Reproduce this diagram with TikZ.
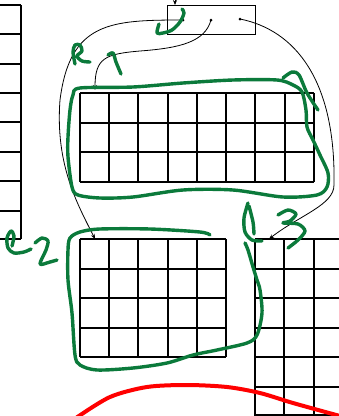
\documentclass[tikz,border=0pt]{standalone}
\usetikzlibrary{arrows.meta}
\definecolor{pen}{HTML}{0B7A3B}
\tikzset{
  gridline/.style={line width=1.3pt, black},
  wire/.style={line width=0.8pt, black, -{Stealth[length=5pt,width=4pt]}},
  ink/.style={pen, line width=3.4pt, line cap=round, line join=round},
  redink/.style={red, line width=4pt, line cap=round},
  dot/.style={circle, fill, inner sep=0pt, minimum size=3pt},
  boxstyle/.style={draw, line width=0.9pt, minimum width=88pt, minimum height=29.5pt, inner sep=0pt},
}
\begin{document}
\begin{tikzpicture}[x=1pt,y=-1pt]
\useasboundingbox (0,0) rectangle (339,416);
\begin{scope}
\clip (0,0) rectangle (339,416);
% left grid
\foreach \y in {5,34,64,93,122,152,181,211,239} \draw[gridline] (-2,\y) -- (21,\y);
\draw[gridline] (21,5) -- (21,239);
% top grid
\foreach \x in {80,109,138,168,197,226,255,285,314} \draw[gridline] (\x,93) -- (\x,182);
\foreach \y in {93,123,152,182} \draw[gridline] (80,\y) -- (314,\y);
% middle grid
\foreach \x in {80,109,138,168,197,226} \draw[gridline] (\x,239) -- (\x,357);
\foreach \y in {239,269,298,328,357} \draw[gridline] (80,\y) -- (226,\y);
% right grid
\foreach \x in {255,284,314} \draw[gridline] (\x,239) -- (\x,420);
\foreach \y in {239,269,298,328,357,387,415} \draw[gridline] (255,\y) -- (345,\y);

% pointer box
\node[boxstyle] (box) at (211,20) {};
\node[dot] (d1) at (183,20) {};
\node[dot] (d2) at (211,20) {};
\node[dot] (d3) at (240,19) {};
\coordinate (in) at (175,-8);
\coordinate (boxin) at (175,5);
\coordinate (tA) at (95,239);
\coordinate (tB) at (95,90);
\coordinate (tC) at (269,239);
\draw[wire] (in) -- (boxin);
\draw[wire] (d1.center) .. controls (110,20) and (70,22) .. (60,100)
   .. controls (55,165) and (78,205) .. (tA);
\draw[wire] (d2.center) .. controls (205,42) and (180,48) .. (140,51)
   .. controls (105,54) and (95,58) .. (tB);
\draw[wire] (d3.center) .. controls (295,30) and (336,80) .. (334,185)
   .. controls (334,205) and (300,215) .. (tC);

% green annotations
\draw[ink] plot[smooth cycle] coordinates {(80,88) (133,87) (183,83) (233,80) (277,80) (293,85) (302,92) (306,110) (307,127) (313,140) (320,155) (328,173) (327,187) (317,195) (283,197) (233,190) (183,190) (133,197) (100,198) (78,195) (72,187) (68,157) (68,137) (70,110) (73,95)};
\draw[ink] plot[smooth] coordinates {(283,78) (292,72) (299,75) (307,93) (318,110)};
\draw[ink] plot[smooth] coordinates {(210,235) (200,232) (150,229) (100,229) (80,232) (70,238) (68,250) (68,280) (72,313) (75,355) (80,365) (97,370) (133,368) (167,363) (193,355) (217,350) (247,343) (257,335) (262,313) (260,290) (257,280) (253,267) (248,250) (245,243)};
% R 1
\draw[ink] plot[smooth] coordinates {(75,64) (73,52) (75,45) (80,45) (82,51) (77,56) (82,61) (90,62)};
\draw[ink] plot[smooth] coordinates {(108,55) (113,53) (116,62) (121,74)};
% scribble in box
\draw[ink] plot[smooth] coordinates {(159,24) (157,33) (163,33) (172,30) (180,22) (184,13) (182,9)};
% e 2
\draw[ink] plot[smooth] coordinates {(12,246) (14,236) (11,231) (7,238) (8,248) (14,253) (24,252) (31,249)};
\draw[ink] plot[smooth] coordinates {(35,243) (42,238) (48,241) (46,250) (40,264) (50,262) (57,260)};
% 1 3
\draw[ink] plot[smooth] coordinates {(248,203) (244,218) (245,232) (252,240) (262,241)};
\draw[ink] plot[smooth] coordinates {(249,206) (253,222) (254,234)};
\draw[ink] plot[smooth] coordinates {(278,215) (288,210) (296,214) (290,221) (283,223) (298,224) (305,231) (298,240) (288,248)};
% red arc
\draw[redink] plot[smooth] coordinates {(76,418) (110,397) (147,387) (187,385) (227,387) (260,393) (293,403) (340,416)};
\end{scope}
\end{tikzpicture}
\end{document}
